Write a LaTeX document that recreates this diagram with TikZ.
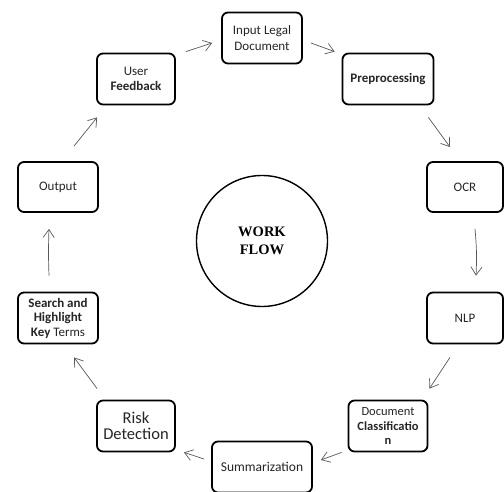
\documentclass[tikz,border=0pt]{standalone}
\usepackage{fontspec}
\setmainfont{Carlito}
\newfontfamily\wfserif{Liberation Serif}
\usetikzlibrary{arrows.meta,calc}
\begin{document}
\begin{tikzpicture}[x=1pt,y=-1pt,
  box/.style={draw=black,line width=1.8pt,rounded corners=6pt,align=center,
    inner sep=0pt,font=\fontsize{13}{15.5}\selectfont,text=black!85},
  arr/.style={draw=black!65,line width=0.7pt,-{Straight Barb[length=8pt,width=11pt,line width=0.7pt]}}]
\useasboundingbox (0,0) rectangle (504,492);
\fill[white] (0,0) rectangle (504,492);
\node[box,minimum width=80pt,minimum height=51pt] (in) at (262,38) {Input Legal\\Document};
\node[box,minimum width=78pt,minimum height=51pt] (uf) at (136,79) {User\\\textbf{Feedback}};
\node[box,minimum width=91pt,minimum height=51pt] (pp) at (388,79) {\textbf{Preprocessing}};
\node[box,minimum width=80pt,minimum height=50pt] (out) at (58,187) {Output};
\node[box,minimum width=76pt,minimum height=50pt] (ocr) at (465,187) {OCR};
\node[box,minimum width=80pt,minimum height=51pt,font=\fontsize{13}{14.5}\selectfont] (sh) at (58,318) {\textbf{Search and}\\\textbf{Highlight}\\\textbf{Key} Terms};
\node[box,minimum width=76pt,minimum height=51pt] (nlp) at (465,318) {NLP};
\node[box,minimum width=78pt,minimum height=51pt,font=\fontsize{16.5}{16.5}\selectfont] (risk) at (136,426) {Risk\\Detection};
\node[box,minimum width=79pt,minimum height=51pt,font=\fontsize{12.5}{14.5}\selectfont] (dc) at (388,426) {Document\\\textbf{Classificatio}\\\textbf{n}};
\node[box,minimum width=100pt,minimum height=51pt,font=\fontsize{13.5}{15}\selectfont] (sum) at (262,467) {Summarization};
\node[draw=black,line width=1.4pt,circle,minimum size=131pt,inner sep=0pt,align=center,
  font=\wfserif\bfseries\fontsize{14.5}{18}\selectfont] (wf) at (262,241) {WORK\\FLOW};
\draw[arr] ($(uf.north east)+(10,-1)$) -- ($(in.west)+(-9,5)$);
\draw[arr] ($(in.east)+(8,5)$) -- ($(pp.north west)+(-7,-1)$);
\draw[arr] ($(pp.south east)+(-6,12)$) -- ($(ocr.north)+(-15,-14)$);
\draw[arr] ($(ocr.south)+(10,16)$) to[bend left=4] ($(nlp.north)+(11,-16)$);
\draw[arr] ($(nlp.south)+(-15,13)$) -- ($(dc.north east)+(1,-11)$);
\draw[arr] ($(dc.south west)+(-6,0)$) -- ($(sum.east)+(8,-7)$);
\draw[arr] ($(sum.west)+(-7,-8)$) -- ($(risk.south east)+(8,0)$);
\draw[arr] ($(risk.north west)+(1,-11)$) -- ($(sh.south)+(16,13)$);
\draw[arr] ($(sh.north)+(-9,-16)$) to[bend left=2] ($(out.south)+(-9,16)$);
\draw[arr] ($(out.north)+(16,-15)$) -- ($(uf.south west)+(1,12)$);
\end{tikzpicture}
\end{document}
